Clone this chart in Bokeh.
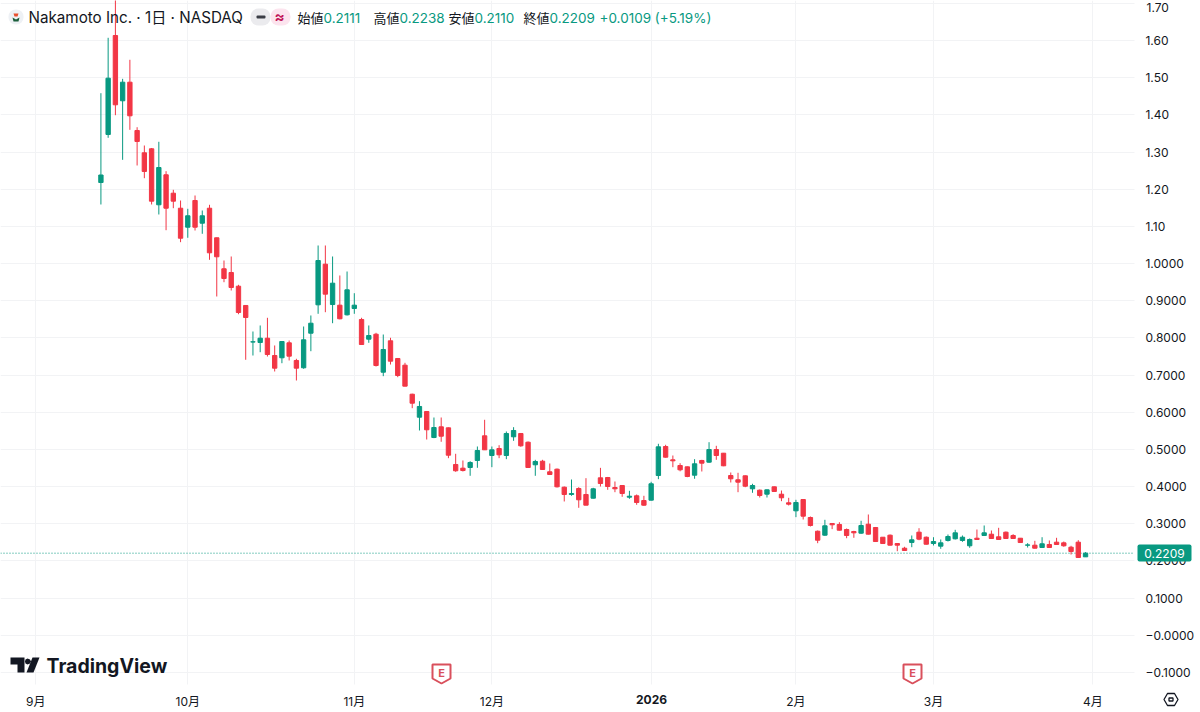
from bokeh.embed import file_html
from bokeh.models import BoxAnnotation, ColumnDataSource, FixedTicker, Grid, Label, LinearAxis, PolyAnnotation
from bokeh.plotting import figure
from bokeh.resources import INLINE

opens = [1.2182, 1.3473, 1.6136, 1.4380, 1.4880, 1.3581, 1.2981, 1.3088, 1.1582, 1.2389,
         1.1894, 1.1490, 1.0979, 1.1697, 1.1087, 1.1490, 1.0694, .9860, .9760, .9392,
         .8873, .7890, .7877, .7993, .7527, .7466, .7869, .7393, .7197, .8127,
         .8891, .9984, .8899, .8881, .8622, .8792, .8496, .7966, .8100, .7078,
         .7923, .7447, .7267, .6486, .5867, .6021, .5321, .5609, .5582, .4595,
         .4496, .4514, .4703, .5367, .4837, .5025, .4837, .5340, .5429, .5195,
         .4587, .4684, .4399, .4469, .3985, .3788, .3949, .3788, .3688, .4237,
         .4245, .3976, .4030, .3715, .3753, .3626, .3635, .4299, .5079, .4721,
         .4568, .4533, .4307, .4703, .4657, .4998, .4899, .4299, .4184, .4291,
         .3941, .3904, .3796, .3995, .3796, .3565, .3349, .3653, .3169, .2800,
         .2693, .3008, .2981, .2846, .2792, .2747, .2989, .2900, .2639, .2693,
         .2469, .2343, .2497, .2774, .2639, .2469, .2397, .2551, .2596, .2551,
         .2408, .2612, .2685, .2720, .2650, .2774, .2685, .2612, .2424, .2424,
         .2362, .2443, .2505, .2488, .2370, .2505, .2111]
highs = [1.4584, 1.6075, 1.7300, 1.4971, 1.5483, 1.3669, 1.3177, 1.3110, 1.3277, 1.2486,
         1.1985, 1.1697, 1.1474, 1.1832, 1.1428, 1.1582, 1.0700, 1.0083, 1.0191, .9429,
         .8873, .8173, .8335, .8542, .7797, .7904, .7931, .7439, .8308, .8604,
         1.0487, 1.0487, 1.0191, .9680, .9787, .9203, .8542, .8335, .8138, .8092,
         .8004, .7447, .7331, .6500, .6298, .6030, .5859, .5859, .5590, .4883,
         .4703, .4684, .5079, .5798, .5079, .5114, .5483, .5599, .5441, .5214,
         .4721, .4721, .4622, .4487, .4003, .4191, .3985, .4227, .3968, .4505,
         .4260, .4138, .4038, .3887, .3788, .3753, .4130, .5152, .5125, .4837,
         .4630, .4541, .4738, .4721, .5195, .5098, .4905, .4380, .4372, .4300,
         .4076, .3922, .3922, .4003, .3895, .3699, .3645, .3660, .3196, .2819,
         .3107, .3016, .3043, .2873, .2811, .3081, .3250, .2914, .2639, .2712,
         .2469, .2381, .2685, .2881, .2658, .2639, .2578, .2712, .2838, .2685,
         .2605, .2846, .2954, .2819, .2892, .2792, .2720, .2612, .2479, .2542,
         .2639, .2551, .2623, .2523, .2408, .2559, .2238]
lows = [1.1590, 1.3384, 1.3992, 1.2792, 1.3599, 1.2639, 1.2297, 1.1590, 1.1321, 1.0898,
        1.1490, 1.0576, 1.0694, 1.0890, 1.0802, 1.0102, .9115, .9499, .9276, .8638,
        .7412, .7527, .7616, .7500, .7097, .7320, .7393, .6855, .7170, .7643,
        .8649, .8692, .8396, .8500, .8604, .8649, .7810, .7869, .7231, .6971,
        .7285, .6944, .6700, .6110, .5510, .5267, .5303, .5206, .4765, .4399,
        .4407, .4291, .4506, .4985, .4523, .4765, .4738, .5232, .5071, .4514,
        .4291, .4447, .4312, .3976, .3600, .3753, .3430, .3500, .3680, .4003,
        .3914, .3850, .3726, .3672, .3511, .3484, .3626, .4200, .4780, .4522,
        .4412, .4253, .4211, .4407, .4640, .4721, .4550, .4111, .3850, .3984,
        .3834, .3707, .3707, .3855, .3608, .3492, .3178, .3115, .2927, .2478,
        .2677, .2856, .2819, .2612, .2623, .2730, .2712, .2523, .2469, .2416,
        .2262, .2273, .2370, .2558, .2442, .2416, .2327, .2523, .2578, .2515,
        .2354, .2564, .2677, .2604, .2570, .2597, .2597, .2496, .2362, .2335,
        .2348, .2348, .2443, .2381, .2173, .2093, .2110]
closes = [1.2383, 1.4988, 1.4272, 1.4880, 1.3976, 1.3285, 1.2478, 1.1679, 1.2585, 1.1490,
          1.1679, 1.0683, 1.1286, 1.0979, 1.1286, 1.0290, 1.0183, .9599, .9357, .8684,
          .8550, .7896, .7993, .7554, .7186, .7904, .7509, .7186, .7950, .8396,
          1.0083, .9177, .9473, .8515, .9295, .8881, .7823, .8065, .7258, .7689,
          .7374, .6989, .6702, .6244, .6156, .5529, .5590, .5356, .4845, .4426,
          .4433, .4649, .4972, .4990, .4990, .4856, .5429, .5510, .5098, .4514,
          .4676, .4461, .4326, .3995, .3788, .3815, .3645, .3500, .3941, .4084,
          .4003, .3941, .3815, .3742, .3573, .3500, .4076, .5071, .4791, .4694,
          .4452, .4272, .4614, .4630, .4998, .4837, .4560, .4210, .4119, .4011,
          .4030, .3761, .3914, .3869, .3699, .3527, .3573, .3204, .2954, .2558,
          .2946, .2973, .2827, .2685, .2757, .2954, .2720, .2523, .2469, .2424,
          .2424, .2281, .2569, .2586, .2450, .2523, .2488, .2658, .2757, .2639,
          .2578, .2578, .2757, .2604, .2578, .2604, .2604, .2496, .2431, .2343,
          .2462, .2362, .2443, .2408, .2254, .2093, .2209]

month_bars = [-9, 12, 35, 54, 76, 96, 115, 137]
month_names = ["9月", "10月", "11月", "12月", "", "2月", "3月", "4月"]
price_ticks = [-.1, 0, .1, .2, .3, .4, .5, .6, .7, .8, .9, 1, 1.1, 1.2, 1.3, 1.4, 1.5, 1.6, 1.7]
price_names = ["−0.1000", "−0.0000", "0.1000", "0.2000", "0.3000", "0.4000", "0.5000", "0.6000", "0.7000",
               "0.8000", "0.9000", "1.0000", "1.10", "1.20", "1.30", "1.40", "1.50", "1.60", ""]
last_close = closes[-1]

UP = "#089981"
DOWN = "#F23645"
INK = "#131722"
GRID = "#F2F3F5"
FONT = "Inter, 'Noto Sans CJK JP'"

# the ranges fill the whole canvas, so that every overlay below can sit outside the price pane
X_START, X_END = -13.87, 151.88
Y_START, Y_END = -.2077, 1.7078
PANE_RIGHT, PANE_BOTTOM = 142.76, -.1326

colors = [UP if c >= o else DOWN for o, c in zip(opens, closes)]
source = ColumnDataSource(dict(
    x=list(range(len(opens))),
    top=[max(o, c) for o, c in zip(opens, closes)],
    bottom=[min(o, c) for o, c in zip(opens, closes)],
    high=highs, low=lows, color=colors))

p = figure(width=1200, height=712, output_backend="svg", toolbar_location=None,
           x_range=(X_START, X_END), y_range=(Y_START, Y_END), x_axis_type=None, y_axis_type=None,
           min_border=0)
p.outline_line_color = None

xaxis = LinearAxis(fixed_location=PANE_BOTTOM, ticker=FixedTicker(ticks=month_bars),
                   major_label_overrides=dict(zip(month_bars, month_names)), major_label_standoff=9)
yaxis = LinearAxis(fixed_location=PANE_RIGHT, ticker=FixedTicker(ticks=price_ticks),
                   major_label_overrides=dict(zip(price_ticks, price_names)), major_label_standoff=11)
for ax in (xaxis, yaxis):
    ax.axis_line_color = None
    ax.major_tick_line_color = None
    ax.minor_tick_line_color = None
    ax.major_tick_out = 0
    ax.major_tick_in = 0
    ax.major_label_text_color = INK
    ax.major_label_text_font = FONT
    ax.major_label_text_font_size = "12px"
p.add_layout(xaxis, "below")
p.add_layout(yaxis, "right")
p.add_layout(Grid(dimension=0, ticker=xaxis.ticker, grid_line_color=GRID, cross_bounds=(PANE_BOTTOM, Y_END)))
p.add_layout(Grid(dimension=1, ticker=yaxis.ticker, grid_line_color=GRID, cross_bounds=(X_START, PANE_RIGHT)))

price_line = p.segment([X_START], [last_close], [PANE_RIGHT], [last_close], line_color=UP, line_width=1)
price_line.glyph.line_dash = [1, 2]
p.segment("x", "high", "x", "low", source=source, color="color", line_width=1)
p.vbar("x", 0.6, "top", "bottom", source=source, fill_color="color", line_color="color", line_width=1)


def text(x, y, s, size=13, color=INK, style="normal", align="left"):
    p.add_layout(Label(x=x, y=y, x_units="canvas", y_units="canvas", text=s,
                       text_font=FONT, text_font_size=f"{size}px", text_color=color,
                       text_font_style=style, text_align=align, text_baseline="middle"))


def poly(pts, fill=None, line=None, width=1):
    p.add_layout(PolyAnnotation(xs=[a for a, b in pts], ys=[b for a, b in pts],
                                xs_units="canvas", ys_units="canvas",
                                fill_color=fill, fill_alpha=1 if fill else 0,
                                line_color=line, line_width=width, line_alpha=1 if line else 0))


def box(l, r, t, b, fill, radius=0):
    p.add_layout(BoxAnnotation(left=l, right=r, top=t, bottom=b,
                               left_units="canvas", right_units="canvas", top_units="canvas", bottom_units="canvas",
                               fill_color=fill, fill_alpha=1, line_alpha=0, border_radius=radius))


# header
box(8, 23, 9, 24, "#EEF1F5", 7)
poly([(12, 17), (15.5, 19), (19, 17), (18, 21), (13, 21)], fill="#1B5E3B")
poly([(13, 13), (18, 13), (17, 16), (14, 16)], fill="#E8502F")
text(28, 17, "Nakamoto Inc. · 1日 · NASDAQ", size=15.2)
box(250, 270, 8, 25, "#EBEBEE", 8)
box(270, 290, 8, 25, "#FCE4EE", 8)
box(256, 265, 15, 18, "#3A3D45", 1)
text(279, 16, "≈", size=15, color="#C2185B", style="bold", align="center")
for lx, name, vx, val in [(297, "始値", 323, "0.2111"), (373, "高値", 399, "0.2238"),
                          (448, "安値", 474, "0.2110"), (523, "終値", 549, "0.2209")]:
    text(lx, 17, name)
    text(vx, 17, val, size=13.5, color=UP)
text(599, 17, "+0.0109 (+5.19%)", size=13.5, color=UP)

# sits a little lower than its gridline so that it is not cut by the canvas edge
text(1146, 7, "1.70", size=12)

# last price tag
box(1137, 1191, 544, 561, UP, 2)
text(1164, 553, "0.2209", size=12, color="#FFFFFF", align="center")

text(651, 699, "2026", size=12, style="bold", align="center")

# earnings flags
for cx in (441, 912):
    poly([(cx - 9, 664), (cx + 9, 664), (cx + 9, 678), (cx, 683), (cx - 9, 678)], fill="#FFFFFF", line="#D9505C", width=2)
    text(cx, 672.5, "E", size=11, color="#D9505C", style="bold", align="center")

# watermark
poly([(10, 657), (24, 657), (24, 672), (17, 672), (17, 664), (10, 664)], fill=INK)
poly([(27, 658), (29.5, 659), (30.5, 661), (29.5, 663), (27, 664), (25, 663), (24.5, 661), (25, 659)], fill=INK)
poly([(32, 657), (39, 657), (33, 672), (26, 672)], fill=INK)
text(46, 665, "TradingView", size=19.5, style="bold")

# settings button
poly([(1163.5, 699), (1167, 693), (1174, 693), (1177.5, 699), (1174, 705), (1167, 705)], line=INK, width=1.3)
poly([(1168.5, 697.5), (1172.5, 697.5), (1172.5, 700.5), (1168.5, 700.5)], line=INK, width=1.3)

open("out.html", "w").write(file_html(p, INLINE))
